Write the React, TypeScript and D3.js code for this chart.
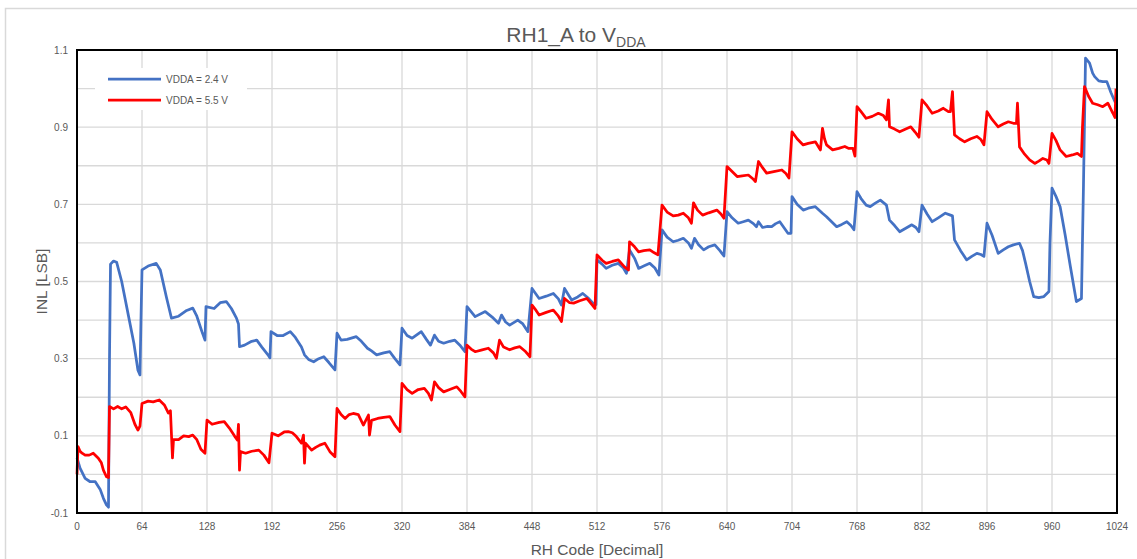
import * as d3 from 'd3';

// INL vs RH code
const series24: [number, number][] = [
  [0, 0.043], [3, 0.016], [8, -0.01], [13, -0.019], [18, -0.019], [23, -0.04], [26, -0.062], [29, -0.079], [31, -0.085],
  [32, 0.3], [33, 0.545], [36, 0.553], [39, 0.55], [44, 0.5], [50, 0.42], [56, 0.34], [60, 0.27], [62, 0.258],
  [63, 0.4], [64, 0.53], [70, 0.54], [78, 0.547], [82, 0.53], [88, 0.46], [93, 0.405], [100, 0.41], [108, 0.425],
  [114, 0.431], [118, 0.41], [123, 0.37], [126, 0.348], [127, 0.435], [135, 0.43], [141, 0.445], [147, 0.448],
  [152, 0.43], [157, 0.405], [159, 0.39], [160, 0.331], [165, 0.335], [172, 0.345], [177, 0.348], [182, 0.33],
  [188, 0.31], [190, 0.302], [191, 0.37], [197, 0.36], [203, 0.36], [210, 0.37], [215, 0.355], [221, 0.33],
  [224, 0.31], [228, 0.298], [233, 0.292], [238, 0.3], [243, 0.305], [248, 0.29], [254, 0.271], [256, 0.366],
  [260, 0.348], [266, 0.35], [275, 0.357], [280, 0.345], [286, 0.327], [290, 0.32], [295, 0.31], [302, 0.315],
  [308, 0.318], [313, 0.3], [318, 0.284], [320, 0.379], [325, 0.36], [330, 0.353], [339, 0.37], [344, 0.35],
  [348, 0.335], [352, 0.361], [356, 0.345], [361, 0.34], [367, 0.345], [372, 0.348], [377, 0.335], [382, 0.318],
  [384, 0.435], [392, 0.409], [402, 0.422], [410, 0.405], [415, 0.392], [418, 0.413], [422, 0.395], [426, 0.387],
  [434, 0.4], [439, 0.39], [444, 0.37], [448, 0.482], [455, 0.456], [462, 0.462], [469, 0.469], [474, 0.455],
  [477, 0.439], [480, 0.482], [487, 0.452], [493, 0.46], [498, 0.469], [503, 0.458], [508, 0.444], [511, 0.44],
  [512, 0.556], [517, 0.545], [521, 0.534], [527, 0.542], [533, 0.547], [538, 0.535], [541, 0.521], [544, 0.582],
  [549, 0.56], [553, 0.534], [558, 0.54], [564, 0.547], [569, 0.535], [573, 0.517], [576, 0.634], [581, 0.615],
  [587, 0.603], [592, 0.607], [597, 0.612], [602, 0.6], [605, 0.586], [608, 0.612], [612, 0.595], [617, 0.582],
  [622, 0.59], [628, 0.595], [633, 0.58], [637, 0.566], [640, 0.681], [645, 0.665], [651, 0.651], [656, 0.655],
  [661, 0.659], [666, 0.65], [669, 0.642], [671, 0.655], [675, 0.64], [680, 0.643], [684, 0.642], [688, 0.65],
  [692, 0.655], [696, 0.64], [700, 0.625], [703, 0.625], [704, 0.72], [709, 0.7], [715, 0.685], [720, 0.69],
  [727, 0.694], [734, 0.677], [738, 0.668], [743, 0.655], [748, 0.642], [753, 0.648], [758, 0.655], [762, 0.645],
  [765, 0.634], [768, 0.733], [772, 0.715], [777, 0.698], [781, 0.694], [786, 0.703], [791, 0.711], [797, 0.698],
  [800, 0.659], [805, 0.645], [810, 0.629], [816, 0.638], [822, 0.647], [826, 0.64], [829, 0.629], [832, 0.698],
  [837, 0.675], [842, 0.655], [848, 0.665], [855, 0.677], [860, 0.672], [862, 0.67], [864, 0.608], [870, 0.58],
  [876, 0.556], [881, 0.565], [886, 0.573], [890, 0.57], [893, 0.565], [896, 0.651], [901, 0.62], [907, 0.573],
  [912, 0.582], [917, 0.59], [922, 0.595], [928, 0.599], [931, 0.58], [934, 0.547], [938, 0.5], [942, 0.461],
  [947, 0.458], [952, 0.461], [957, 0.474], [958, 0.6], [960, 0.742], [964, 0.72], [968, 0.694], [973, 0.62],
  [978, 0.54], [984, 0.448], [989, 0.456], [991, 0.75], [993, 1.079], [997, 1.066], [1000, 1.04], [1002, 1.031],
  [1006, 1.02], [1010, 1.018], [1014, 1.018], [1018, 0.99], [1022, 0.966], [1024, 0.97],
];

const series55: [number, number][] = [
  [0, 0.0], [1, 0.072], [3, 0.06], [5, 0.055], [8, 0.05], [12, 0.05], [16, 0.055], [21, 0.042], [24, 0.03],
  [26, 0.011], [29, -0.006], [31, -0.008], [32, 0.176], [36, 0.17], [40, 0.176], [44, 0.17], [48, 0.175],
  [53, 0.16], [57, 0.13], [60, 0.115], [62, 0.125], [64, 0.184], [70, 0.19], [75, 0.188], [81, 0.193], [86, 0.18],
  [90, 0.159], [92, 0.165], [94, 0.043], [95, 0.09], [100, 0.09], [105, 0.1], [110, 0.098], [114, 0.102],
  [118, 0.09], [122, 0.065], [126, 0.055], [128, 0.141], [133, 0.13], [140, 0.135], [145, 0.137], [150, 0.12],
  [155, 0.1], [158, 0.089], [159, 0.13], [160, 0.011], [161, 0.059], [166, 0.055], [172, 0.06], [179, 0.063],
  [184, 0.05], [189, 0.03], [192, 0.107], [198, 0.1], [204, 0.11], [208, 0.111], [212, 0.108], [216, 0.098],
  [221, 0.081], [223, 0.102], [224, 0.029], [225, 0.081], [231, 0.063], [235, 0.07], [239, 0.076], [244, 0.081],
  [249, 0.059], [254, 0.046], [256, 0.171], [260, 0.155], [264, 0.145], [268, 0.155], [272, 0.158], [277, 0.155],
  [282, 0.128], [287, 0.154], [288, 0.102], [290, 0.14], [296, 0.145], [302, 0.148], [308, 0.15], [313, 0.128],
  [318, 0.111], [320, 0.236], [325, 0.22], [330, 0.21], [336, 0.22], [342, 0.223], [346, 0.21], [349, 0.193],
  [352, 0.24], [356, 0.225], [361, 0.214], [367, 0.22], [374, 0.227], [378, 0.215], [382, 0.201], [384, 0.335],
  [388, 0.325], [392, 0.318], [398, 0.322], [405, 0.327], [410, 0.315], [413, 0.301], [416, 0.348], [420, 0.33],
  [426, 0.323], [431, 0.328], [436, 0.331], [441, 0.32], [446, 0.305], [448, 0.439], [452, 0.425], [455, 0.413],
  [462, 0.42], [469, 0.426], [474, 0.41], [477, 0.396], [480, 0.456], [485, 0.445], [489, 0.444], [495, 0.45],
  [502, 0.456], [507, 0.44], [510, 0.43], [512, 0.569], [517, 0.555], [521, 0.547], [527, 0.552], [533, 0.556],
  [539, 0.538], [543, 0.53], [544, 0.603], [549, 0.59], [553, 0.577], [558, 0.58], [564, 0.582], [568, 0.575],
  [572, 0.569], [576, 0.698], [581, 0.68], [587, 0.67], [592, 0.672], [597, 0.677], [602, 0.665], [605, 0.651],
  [607, 0.704], [611, 0.685], [616, 0.672], [622, 0.678], [630, 0.685], [634, 0.675], [637, 0.664], [640, 0.798],
  [645, 0.785], [650, 0.772], [655, 0.774], [661, 0.776], [666, 0.765], [668, 0.759], [671, 0.811], [675, 0.795],
  [679, 0.781], [686, 0.785], [694, 0.789], [698, 0.78], [701, 0.768], [704, 0.888], [709, 0.87], [715, 0.854],
  [720, 0.858], [727, 0.862], [732, 0.841], [734, 0.897], [736, 0.87], [738, 0.854], [744, 0.841], [750, 0.845],
  [756, 0.85], [760, 0.845], [764, 0.845], [766, 0.825], [768, 0.953], [772, 0.94], [777, 0.923], [783, 0.928],
  [789, 0.936], [794, 0.93], [797, 0.919], [799, 0.971], [800, 0.901], [805, 0.895], [810, 0.888], [816, 0.895],
  [821, 0.901], [825, 0.888], [829, 0.874], [832, 0.971], [837, 0.955], [842, 0.936], [848, 0.942], [853, 0.949],
  [858, 0.94], [860, 0.94], [862, 0.992], [864, 0.88], [869, 0.87], [874, 0.862], [880, 0.87], [886, 0.876],
  [890, 0.868], [893, 0.854], [896, 0.94], [901, 0.92], [907, 0.901], [912, 0.908], [917, 0.914], [922, 0.91],
  [925, 0.91], [926, 0.962], [928, 0.849], [933, 0.83], [938, 0.815], [943, 0.806], [947, 0.812], [951, 0.819],
  [955, 0.815], [957, 0.806], [960, 0.884], [964, 0.865], [968, 0.841], [974, 0.824], [980, 0.828], [985, 0.832],
  [989, 0.824], [990, 0.9], [992, 1.005], [996, 0.98], [1000, 0.962], [1005, 0.958], [1010, 0.953], [1015, 0.962],
  [1020, 0.936], [1022, 0.925], [1023, 1.0],
];

const xTicks = [0, 64, 128, 192, 256, 320, 384, 448, 512, 576, 640, 704, 768, 832, 896, 960, 1024];
const yTicks = [-0.1, 0.1, 0.3, 0.5, 0.7, 0.9, 1.1];
const yGrid = [0, 0.1, 0.2, 0.3, 0.4, 0.5, 0.6, 0.7, 0.8, 0.9, 1.0];

const legendItems = [
  { label: 'VDDA = 2.4 V', color: '#4472C4' },
  { label: 'VDDA = 5.5 V', color: '#FF0000' },
];

const W = 1137;
const H = 559;
const margin = { top: 50, right: 20, bottom: 46, left: 77 };
const font = '"Liberation Sans", Arial, sans-serif';
const textColor = '#595959';

export default function App() {
  const x = d3.scaleLinear().domain([0, 1024]).range([margin.left, W - margin.right]);
  const y = d3.scaleLinear().domain([-0.1, 1.1]).range([H - margin.bottom, margin.top]);

  const line = d3.line<[number, number]>()
    .x(d => x(d[0]))
    .y(d => y(d[1]));

  const plotW = x(1024) - x(0);
  const plotH = y(-0.1) - y(1.1);

  return (
    <svg
      width={W}
      height={H}
      style={{ position: 'absolute', left: 0, top: 0, background: '#fff', fontFamily: font }}
    >
      <rect x={5.5} y={8.5} width={1200} height={600} fill="#fff" stroke="#d9d9d9" strokeWidth={1.5} />

      {/* grid */}
      {yGrid.map(v => (
        <line key={'h' + v} x1={x(0)} x2={x(1024)} y1={y(v)} y2={y(v)} stroke="#d9d9d9" strokeWidth={1.3} />
      ))}
      {xTicks.slice(1, -1).map(t => (
        <line key={'v' + t} x1={x(t)} x2={x(t)} y1={y(-0.1)} y2={y(1.1)} stroke="#d9d9d9" strokeWidth={1.3} />
      ))}

      {/* legend box covers the grid */}
      <rect x={95} y={68} width={152} height={42} fill="#fff" />
      {legendItems.map((item, i) => (
        <g key={item.label} transform={`translate(108,${79 + i * 21})`}>
          <line x1={0} x2={53} y1={0} y2={0} stroke={item.color} strokeWidth={2.75} />
          <text x={58} y={3.5} fontSize={10} fill={textColor}>{item.label}</text>
        </g>
      ))}

      <path d={line(series24) || ''} fill="none" stroke="#4472C4" strokeWidth={2.75} strokeLinejoin="round" />
      <path d={line(series55) || ''} fill="none" stroke="#FF0000" strokeWidth={2.75} strokeLinejoin="round" />

      <rect x={x(0)} y={y(1.1)} width={plotW} height={plotH} fill="none" stroke="#000" strokeWidth={2} />

      {/* tick labels */}
      {xTicks.map(t => (
        <text key={'xt' + t} x={x(t)} y={y(-0.1) + 17} fontSize={10} textAnchor="middle" fill={textColor}>{t}</text>
      ))}
      {yTicks.map(t => (
        <text key={'yt' + t} x={x(0) - 9} y={y(t) + 3.5} fontSize={10} textAnchor="end" fill={textColor}>
          {d3.format('.1f')(t).replace('−', '-')}
        </text>
      ))}

      <text x={576} y={42} fontSize={21} textAnchor="middle" fill={textColor}>
        RH1_A to V<tspan fontSize={14} dy={5}>DDA</tspan>
      </text>

      <text x={597} y={555} fontSize={15.5} textAnchor="middle" fill={textColor}>RH Code [Decimal]</text>
      <text transform={`translate(47,${(y(-0.1) + y(1.1)) / 2}) rotate(-90)`} fontSize={15.5} textAnchor="middle" fill={textColor}>
        INL [LSB]
      </text>
    </svg>
  );
}
